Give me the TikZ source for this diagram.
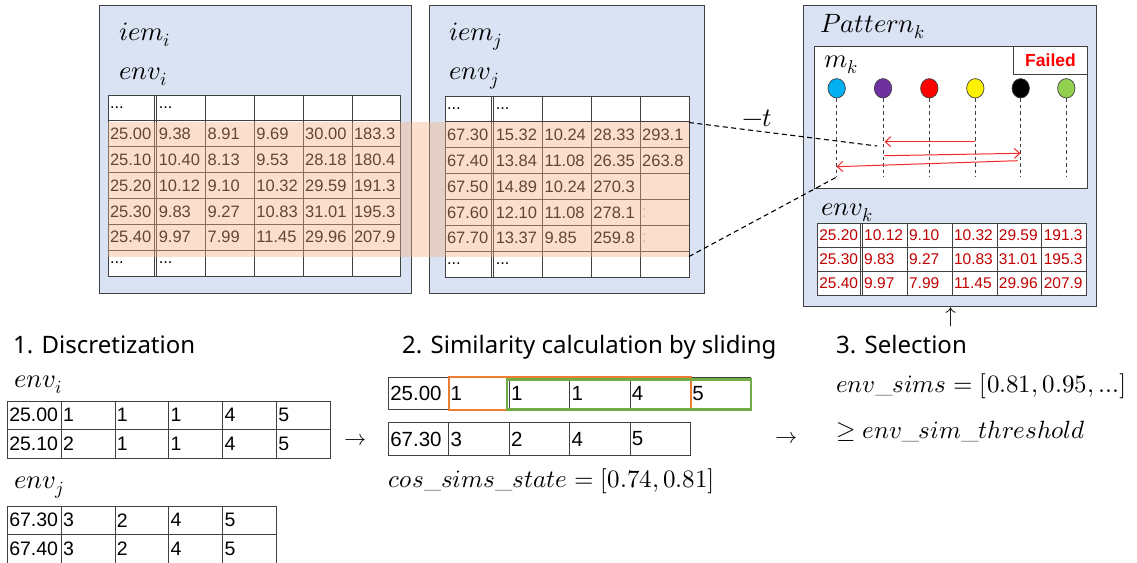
\documentclass[tikz,border=0pt]{standalone}
\usepackage{unicode-math}
\setmathfont{Latin Modern Math}
\newfontfamily\cellfont{Liberation Sans}
\newfontfamily\headfont{Noto Sans}
\usetikzlibrary{arrows.meta,shapes.geometric}

\definecolor{panelfill}{RGB}{218,227,243}
\definecolor{edge}{RGB}{64,64,64}
\definecolor{bandfill}{RGB}{244,177,131}
\definecolor{darkred}{RGB}{192,0,0}
\definecolor{slideorange}{RGB}{237,125,49}
\definecolor{slidegreen}{RGB}{112,173,71}
\definecolor{mcyan}{RGB}{0,176,240}
\definecolor{mpurple}{RGB}{112,48,160}
\definecolor{mgreen}{RGB}{146,208,80}
\definecolor{arrowred}{RGB}{245,40,40}

\newcommand\threedots{...}
% #1 name prefix, #2 left x, #3 top y, #4 column width, #5 row height, #6 rows
\newcommand\datagrid[6]{%
  \foreach \rowdata [count=\rr] in {#6} {%
    \foreach \celltext [count=\cc] in \rowdata {%
      \draw[gridline] ({#2+(\cc-1)*#4},{#3+(\rr-1)*#5}) rectangle ++(#4,#5);
      \node[celltxt] (#1-\rr-\cc) at ({#2+(\cc-1)*#4+1.8},{#3+(\rr-0.5)*#5}) {\celltext};
    }%
  }%
}

\begin{document}
\begin{tikzpicture}[x=1pt,y=-1pt,
  panel/.style={draw=edge,line width=1.2pt,fill=panelfill,anchor=north west,inner sep=0pt},
  gridline/.style={draw=edge,line width=0.8pt,fill=white},
  celltxt/.style={anchor=west,inner sep=0pt,font=\cellfont\fontsize{16.5}{18}\selectfont},
  mlabel/.style={anchor=base west,inner sep=0pt,font=\fontsize{25}{30}\selectfont},
  toplabel/.style={mlabel,font=\fontsize{26.5}{30}\selectfont},
  heading/.style={anchor=base west,inner sep=0pt,font=\headfont\fontsize{24}{28}\selectfont},
  marker/.style={ellipse,draw=edge,line width=0.7pt,minimum width=17.4pt,minimum height=19.4pt,inner sep=0pt},
  stem/.style={draw=edge,line width=0.9pt,dash pattern=on 3.5pt off 3pt},
  redarrow/.style={draw=arrowred,line width=1pt,-{Straight Barb[length=5.5pt,width=10pt]}},
  link/.style={draw=black,line width=1.1pt,dash pattern=on 5pt off 3.5pt},
  glyph/.style={inner sep=0pt,font=\fontsize{22}{24}\selectfont}
]
\useasboundingbox (0,0) rectangle (1137,562);

% ---------- iem_i ----------
\node[panel,minimum width=312pt,minimum height=288pt] (pi) at (99,5) {};
\node[toplabel] (iemi) at (119,40) {$iem_i$};
\node[toplabel] (envi) at (119,79) {$env_i$};
\datagrid{ti}{108}{95}{48.8}{25.86}{%
  {\threedots,\threedots,{},{},{},{}},
  {25.00,9.38,8.91,9.69,30.00,183.3},
  {25.10,10.40,8.13,9.53,28.18,180.4},
  {25.20,10.12,9.10,10.32,29.59,191.3},
  {25.30,9.83,9.27,10.83,31.01,195.3},
  {25.40,9.97,7.99,11.45,29.96,207.9},
  {\threedots,\threedots,{},{},{},{}}}
\draw[draw=edge,line width=0.8pt] (154.6,95) -- (154.6,276);

% ---------- iem_j ----------
\node[panel,minimum width=275pt,minimum height=288pt] (pj) at (429,5) {};
\node[toplabel] (iemj) at (449,40) {$iem_j$};
\node[toplabel] (envj) at (449,79) {$env_j$};
\datagrid{tj}{445}{96}{48.8}{25.86}{%
  {\threedots,\threedots,{},{},{}},
  {67.30,15.32,10.24,28.33,293.1},
  {67.40,13.84,11.08,26.35,263.8},
  {67.50,14.89,10.24,270.3,{}},
  {67.60,12.10,11.08,278.1,{}},
  {67.70,13.37,9.85,259.8,{}},
  {\threedots,\threedots,{},{},{}}}
\draw[draw=edge,line width=0.8pt] (491.6,96) -- (491.6,277);
\node[celltxt,text=black!25] (tjf1) at (642,213) {:};
\node[celltxt,text=black!25] (tjf2) at (642,238) {:};

% shared window over both tables
\fill[bandfill,fill opacity=0.4] (108,122) rectangle (689,257);

% ---------- Pattern_k ----------
\node[panel,minimum width=293pt,minimum height=301pt] (pk) at (803,5) {};
\node[toplabel] (patk) at (820,32) {$Pattern_k$};
\node[draw=edge,line width=1pt,fill=white,anchor=north west,minimum width=273pt,minimum height=142pt,inner sep=0pt] (mk) at (814,46) {};
\node[draw=edge,line width=1pt,fill=white,anchor=north east,minimum width=74pt,minimum height=28pt,inner sep=0pt,
      font=\cellfont\bfseries\fontsize{17.5}{20}\selectfont,text=red] (failed) at (mk.north east) {Failed};
\node[toplabel] (mklab) at (824,67) {$m_k$};
\foreach \xpos/\col [count=\i] in {836.7/mcyan,883/mpurple,929.3/red,975.3/yellow,1020.7/black,1066.3/mgreen} {
  \node[marker,fill=\col] (m\i) at (\xpos,88.3) {};
  \coordinate (s\i) at (\xpos,177);
  \draw[stem] (m\i.south) -- (s\i);
}
\coordinate (r1a) at (975.3,141.7); \coordinate (r1b) at (884.5,141.7);
\coordinate (r2a) at (884.3,155.7); \coordinate (r2b) at (1020.5,153.3);
\coordinate (r3a) at (1017.7,160.7); \coordinate (r3b) at (836.5,166.7);
\draw[redarrow] (r1a) -- (r1b);
\draw[redarrow] (r2a) -- (r2b);
\draw[redarrow] (r3a) -- (r3b);

\node[toplabel] (envk) at (821,215) {$env_k$};
\begin{scope}[celltxt/.append style={font=\cellfont\fontsize{15.5}{17}\selectfont,text=darkred}]
\datagrid{tk}{817.3}{223}{44.9}{24}{%
  {25.20,10.12,9.10,10.32,29.59,191.3},
  {25.30,9.83,9.27,10.83,31.01,195.3},
  {25.40,9.97,7.99,11.45,29.96,207.9}}
\end{scope}
\draw[draw=edge,line width=0.8pt] (860,223) -- (860,295);

% time shift between the two environments
\coordinate (jtop) at (689,122.5);
\coordinate (jbot) at (689,256.5);
\coordinate (ktop) at (877,146);
\draw[link] (jtop) -- (ktop);
\draw[link] (jbot) -- (s1);
\node[toplabel] (shift) at (742,126) {$-t$};
\node[glyph] (up) at (951,317) {$\uparrow$};

% ---------- 1. Discretization ----------
\node[heading] (h1) at (13,353) {1. Discretization};
\node[toplabel] (denvi) at (14,387) {$env_i$};
\begin{scope}[celltxt/.append style={font=\cellfont\fontsize{19.5}{22}\selectfont}]
\datagrid{da}{7.3}{401}{53.8}{28.5}{%
  {25.00,1,1,1,4,5},
  {25.10,2,1,1,4,5}}
\datagrid{db}{7.3}{506}{53.8}{28.5}{%
  {67.30,3,2,4,5},
  {67.40,3,2,4,5}}
\end{scope}
\node[toplabel] (denvj) at (14,488) {$env_j$};
\node[glyph] (arr1) at (355,440) {$\rightarrow$};

% ---------- 2. Similarity calculation by sliding ----------
\node[heading] (h2) at (402,353) {2. Similarity calculation by sliding};
\begin{scope}[celltxt/.append style={font=\cellfont\fontsize{20.5}{23}\selectfont}]
\datagrid{sa}{388.3}{377.3}{60.4}{32.5}{{25.00,1,1,1,4,5}}
\datagrid{sb}{388.3}{422.7}{60.4}{32.5}{{67.30,3,2,4,5}}
\end{scope}
\draw[slideorange,line width=2.2pt] (449,377.3) rectangle (690.7,410.3);
\draw[slidegreen,line width=2.2pt] (507,379.5) rectangle (750.7,409.5);
\node[mlabel] (cossim) at (388,487) {$cos\_sims\_state=[0.74,0.81]$};
\node[glyph] (arr2) at (786,438) {$\rightarrow$};

% ---------- 3. Selection ----------
\node[heading] (h3) at (836,353) {3. Selection};
\node[mlabel] (envsims) at (836,392) {$env\_sims=[0.81,0.95,\ldots]$};
\node[mlabel] (thr) at (836,438) {$\geq env\_sim\_threshold$};
\end{tikzpicture}
\end{document}
